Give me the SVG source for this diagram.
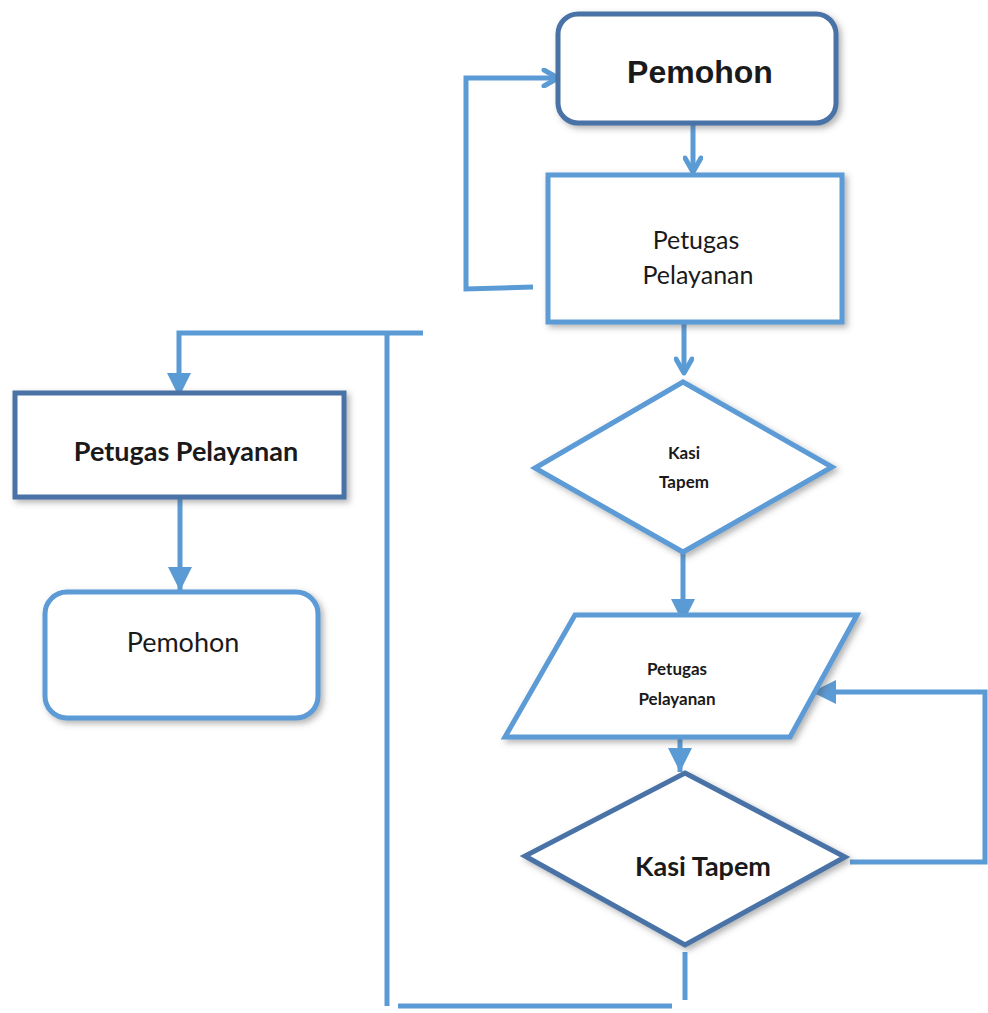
<svg xmlns="http://www.w3.org/2000/svg" width="988" height="1013" viewBox="0 0 988 1013">
<defs>
<filter id="sh" x="-10%" y="-10%" width="130%" height="130%">
<feDropShadow dx="3" dy="3" stdDeviation="3" flood-color="#555" flood-opacity="0.45"/>
</filter>
<marker id="chev" viewBox="0 0 20 20" refX="17" refY="10" markerWidth="20" markerHeight="20" markerUnits="userSpaceOnUse" orient="auto">
<path d="M3,2 L17,10 L3,18" fill="none" stroke="#5b9bd5" stroke-width="5" stroke-linecap="round" stroke-linejoin="round"/>
</marker>
<marker id="tri" viewBox="0 0 26 26" refX="24" refY="13" markerWidth="26" markerHeight="26" markerUnits="userSpaceOnUse" orient="auto">
<path d="M0,1 L24,13 L0,25 Z" fill="#5b9bd5"/>
</marker>
<style>
.lb{fill:#fff;stroke:#5b9bd5;stroke-width:5}
.db{fill:#fff;stroke:#4a73a6;stroke-width:5}
.c{fill:none;stroke:#5b9bd5;stroke-width:5}
.t{font-family:Lato,"Open Sans","Liberation Sans",sans-serif;fill:#1a1a1a;text-anchor:middle}
.b{font-weight:bold}
</style>
</defs>
<rect width="988" height="1013" fill="#fff"/>
<g id="connectors">
<path class="c" d="M693,124 L693,172" marker-end="url(#chev)"/>
<path class="c" d="M533,287 L466,289 L466,78 L558,78" marker-end="url(#chev)"/>
<path class="c" d="M684,323 L684,373" marker-end="url(#chev)"/>
<path class="c" d="M683,553 L683,623" marker-end="url(#tri)"/>
<path class="c" d="M680,738 L680,772" marker-end="url(#tri)"/>
<path class="c" d="M850,862 L985,862 L985,692 L812,692" marker-end="url(#tri)"/>
<path class="c" d="M685,952 L685,1000"/>
<path class="c" d="M398,1006 L672,1006"/>
<path class="c" d="M387,1006 L387,333"/>
<path class="c" d="M423,333 L179,333 L179,397" marker-end="url(#tri)"/>
<path class="c" d="M180,498 L180,591" marker-end="url(#tri)"/>
</g>
<g id="n1">
<rect class="db" x="558" y="14" width="278" height="109" rx="20" filter="url(#sh)"/>
<text class="t b" x="700" y="83" font-size="32" style="font-family:'Liberation Sans',Arial,sans-serif">Pemohon</text>
</g>
<g id="n2">
<rect class="lb" x="548" y="175" width="294" height="147" filter="url(#sh)"/>
<text class="t" x="696" y="249" font-size="25">Petugas</text>
<text class="t" x="698" y="284" font-size="25">Pelayanan</text>
</g>
<g id="n3">
<polygon class="lb" points="683,382 832,467 683,552 535,468" filter="url(#sh)"/>
<text class="t b" x="684" y="459" font-size="17">Kasi</text>
<text class="t b" x="684" y="488" font-size="17">Tapem</text>
</g>
<g id="n4">
<polygon class="lb" points="575,615 857,615 790,737 505,737" filter="url(#sh)"/>
<text class="t b" x="677" y="675" font-size="17">Petugas</text>
<text class="t b" x="677" y="705" font-size="17">Pelayanan</text>
</g>
<g id="n5">
<polygon class="db" points="685,773 845,857 685,945 525,856" filter="url(#sh)"/>
<text class="t b" x="703" y="876" font-size="27">Kasi Tapem</text>
</g>
<g id="n6">
<rect class="db" x="15" y="393" width="329" height="104" filter="url(#sh)"/>
<text class="t b" x="186" y="461" font-size="27">Petugas Pelayanan</text>
</g>
<g id="n7">
<rect class="lb" x="45" y="592" width="273" height="126" rx="22" filter="url(#sh)"/>
<text class="t" x="183" y="652" font-size="27">Pemohon</text>
</g>
</svg>
